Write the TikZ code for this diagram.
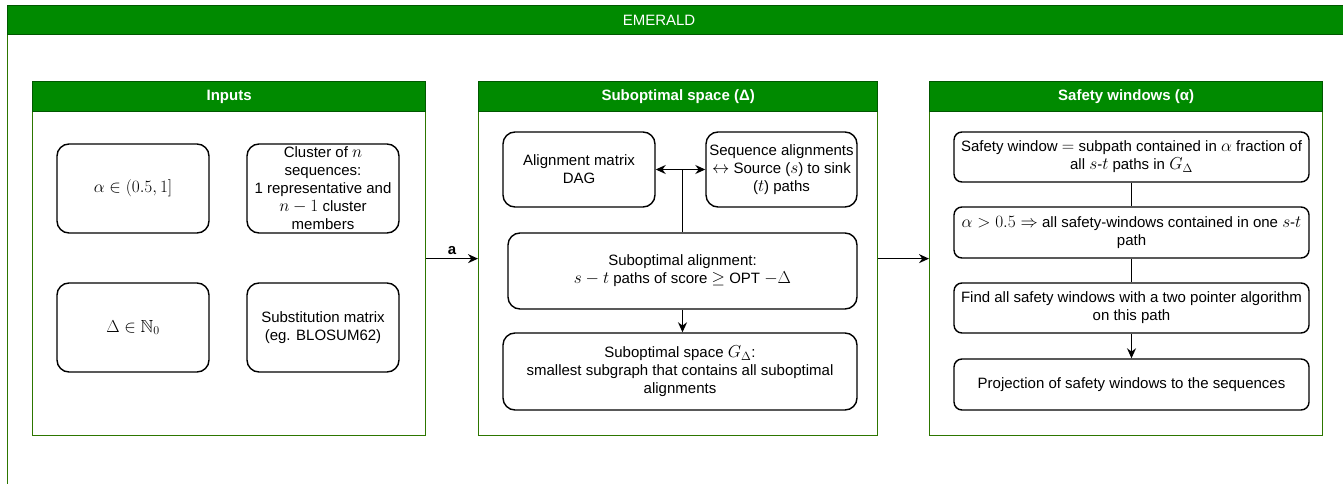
\documentclass[tikz,border=0pt]{standalone}
\usepackage{fontspec}
\setmainfont{Liberation Sans}
\usepackage{amssymb}
\DeclareMathSizes{15}{17.5}{12.5}{10}
\usetikzlibrary{positioning}
\usetikzlibrary{arrows.meta}
\definecolor{hdrgreen}{HTML}{008A00}
\definecolor{hdrline}{HTML}{005700}
\definecolor{panelline}{HTML}{2D7600}
\tikzset{
    frame/.style = {rectangle, draw=panelline, line width=1.3pt, fill=white, anchor=north west},
    fhead/.style = {rectangle, draw=hdrline, line width=1.3pt, fill=hdrgreen, anchor=north west, minimum height=29pt},
    panel/.style = {rectangle, draw=panelline, line width=1.3pt, fill=white, anchor=north west, minimum height=354pt},
    phead/.style = {rectangle, draw=hdrline, line width=1.3pt, fill=hdrgreen, anchor=north west, minimum height=30pt,
                    text=white, font=\fontsize{15}{18}\selectfont\bfseries},
    stepbox/.style = {rectangle, rounded corners=12pt, draw=black, line width=1.4pt, fill=white, align=center,
                      inner sep=1pt, font=\fontsize{15}{18}\selectfont},
    slimbox/.style = {stepbox, rounded corners=8pt},
    edgen/.style = {-{Stealth[length=10pt,width=9pt]}, line width=1.4pt},
    edgeb/.style = {{Stealth[length=10pt,width=9pt]}-{Stealth[length=10pt,width=9pt]}, line width=1.4pt},
    edgep/.style = {line width=1.4pt}
}
\begin{document}
\begin{tikzpicture}[x=1pt,y=-1pt]
\useasboundingbox (0,0) rectangle (1343,484);
\clip (0,0) rectangle (1343,484);
%
\node[frame, minimum width=1400pt, minimum height=520pt] (emr) at (7,5) {};
\node[fhead, minimum width=1400pt] (emrh) at (7,5) {};
\node[text=white, font=\fontsize{15}{18}\selectfont] (emrt) at (659,20) {EMERALD};
%
\node[panel, minimum width=393pt] (inp) at (32,81) {};
\node[phead, minimum width=393pt] (inph) at (32,81) {Inputs};
\node[panel, minimum width=399pt] (sub) at (478,81) {};
\node[phead, minimum width=399pt] (subh) at (478,81) {Suboptimal space (Δ)};
\node[panel, minimum width=393pt] (saf) at (929,81) {};
\node[phead, minimum width=393pt] (safh) at (929,81) {Safety windows (α)};
%
\node[stepbox, minimum width=152pt, minimum height=89pt] at (133,188.5) (alpha) {$\alpha \in (0.5, 1]$};
\node[stepbox, minimum width=152pt, minimum height=89pt] at (323,188.5) (clus) {Cluster of $n$\\sequences:\\1 representative and\\$n-1$ cluster\\members};
\node[stepbox, minimum width=152pt, minimum height=89pt] at (133,327.5) (delta) {$\Delta \in \mathbb{N}_0$};
\node[stepbox, minimum width=152pt, minimum height=89pt] at (323,327.5) (subst) {Substitution matrix\\(eg. BLOSUM62)};
%
\node[stepbox, minimum width=152pt, minimum height=75pt] at (579,169.5) (amat) {Alignment matrix\\DAG};
\node[stepbox, minimum width=151pt, minimum height=75pt] at (781.5,169.5) (seqal) {Sequence alignments\\$\leftrightarrow$ Source ($s$) to sink\\($t$) paths};
\node[stepbox, minimum width=349pt, minimum height=76pt] at (682.5,271) (subal) {Suboptimal alignment:\\$s-t$ paths of score $\geq$ OPT $-\Delta$};
\node[stepbox, minimum width=354pt, minimum height=77pt] at (680,371.5) (subsp) {Suboptimal space $G_\Delta$:\\smallest subgraph that contains all suboptimal\\alignments};
%
\node[slimbox, minimum width=355pt, minimum height=50pt] at (1131.5,157) (sw1) {Safety window $=$ subpath contained in $\alpha$ fraction of\\all $s$-$t$ paths in $G_\Delta$};
\node[slimbox, minimum width=355pt, minimum height=51pt] at (1131.5,232.5) (sw2) {$\alpha > 0.5 \Rightarrow$ all safety-windows contained in one $s$-$t$\\path};
\node[slimbox, minimum width=355pt, minimum height=50pt] at (1131.5,308) (sw3) {Find all safety windows with a two pointer algorithm\\on this path};
\node[slimbox, minimum width=355pt, minimum height=51pt] at (1131.5,384.5) (sw4) {Projection of safety windows to the sequences};
%
\draw[edgen] (inp.east) -- node[above, font=\fontsize{15}{18}\selectfont\bfseries] {a} (sub.west);
\draw[edgen] (sub.east) -- (saf.west);
\draw[edgeb] (amat.east) -- (seqal.west);
\draw[edgep] (subal.north) -- (subal.north |- amat.east);
\draw[edgen] (subal.south) -- (subal.south |- subsp.north);
\draw[edgep] (sw1) -- (sw2);
\draw[edgep] (sw2) -- (sw3);
\draw[edgen] (sw3) -- (sw4);
\end{tikzpicture}
\end{document}
